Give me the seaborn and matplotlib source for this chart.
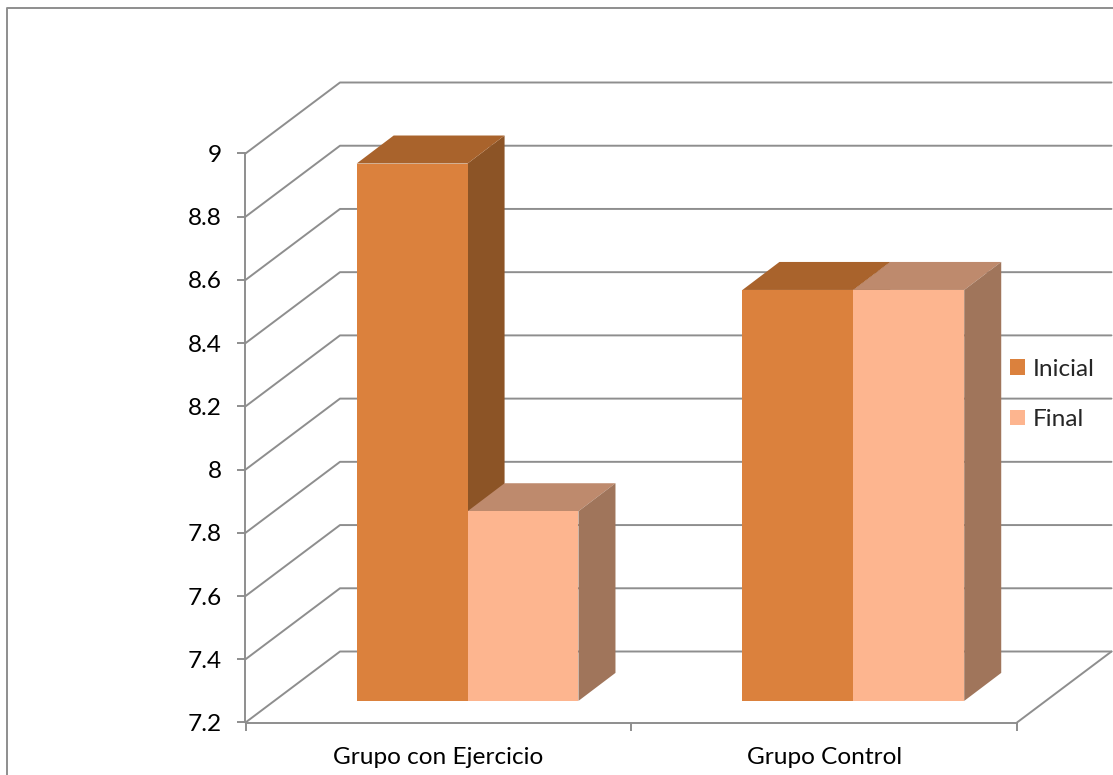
import matplotlib
matplotlib.use("Agg")
import matplotlib.pyplot as plt
from matplotlib.lines import Line2D
from matplotlib.patches import Polygon
import pandas as pd
import seaborn as sns

# Chart data
groups = ["Grupo con Ejercicio", "Grupo Control"]
series = ["Inicial", "Final"]
inicial = [8.9, 8.5]
final = [7.8, 8.5]
y_ticks = [7.2, 7.4, 7.6, 7.8, 8.0, 8.2, 8.4, 8.6, 8.8, 9.0]
y_tick_labels = ["7.2", "7.4", "7.6", "7.8", "8", "8.2", "8.4", "8.6", "8.8", "9"]

# Colours: front, top and side face of each series
front = {"Inicial": "#DB813D", "Final": "#FDB58F"}
top = {"Inicial": "#A9632C", "Final": "#BE8A6D"}
side = {"Inicial": "#8C5426", "Final": "#A0755B"}
line_grey = "#8E8E8E"

W, H = 1113, 775
LEFT, RIGHT, TOP, BOTTOM = 245.5, 1017, 153.5, 722.5

sns.set_theme(style="white")
plt.rcParams["font.family"] = ["Lato", "DejaVu Sans"]

fig = plt.figure(figsize=(W / 100, H / 100), dpi=100, facecolor="white")
ax = fig.add_axes([LEFT / W, 1 - BOTTOM / H, (RIGHT - LEFT) / W, (BOTTOM - TOP) / H])

df = pd.DataFrame({
    "grupo": groups * 2,
    "serie": [series[0]] * 2 + [series[1]] * 2,
    "valor": inicial + final,
})
sns.barplot(data=df, x="grupo", y="valor", hue="serie", hue_order=series,
            palette=front, width=0.575, gap=0, saturation=1, linewidth=0,
            ax=ax, zorder=3)

ymin, ymax = y_ticks[0], y_ticks[-1]
xmin, xmax = -0.5, 1.5
ax.set_xlim(xmin, xmax)
ax.set_ylim(ymin, ymax)

# Pixel lengths of the oblique projection, expressed in data units
px_x = (xmax - xmin) / (RIGHT - LEFT)
px_y = (ymax - ymin) / (BOTTOM - TOP)
wall_dx, wall_dy = 94.5 * px_x, 71 * px_y
bar_dx, bar_dy = 37 * px_x, 28 * px_y
shift_dx, shift_dy = 29.2 * px_x, 21.6 * px_y

# Receding gridlines from the value axis to the back wall
for v in y_ticks:
    ax.plot([xmin, xmin + wall_dx, xmax + wall_dx], [v, v + wall_dy, v + wall_dy],
            color=line_grey, lw=1.4, clip_on=False, zorder=1, solid_capstyle="round")
ax.plot([xmax, xmax + wall_dx], [ymin, ymin + wall_dy],
        color=line_grey, lw=1.4, clip_on=False, zorder=1)

# Move each bar into the middle of the floor and add its top and side faces
for name, container in zip(series, ax.containers):
    for bar, value in zip(container, df.loc[df["serie"] == name, "valor"]):
        x0 = bar.get_x() + shift_dx
        x1 = x0 + bar.get_width()
        y0 = ymin + shift_dy
        y1 = value + shift_dy
        bar.set_x(x0)
        bar.set_y(y0)
        bar.set_height(value - ymin)
        bar.set_clip_on(False)
        ax.add_patch(Polygon(
            [(x0, y1), (x1, y1), (x1 + bar_dx, y1 + bar_dy), (x0 + bar_dx, y1 + bar_dy)],
            closed=True, facecolor=top[name], edgecolor="none", clip_on=False, zorder=2.5))
        ax.add_patch(Polygon(
            [(x1, y0), (x1 + bar_dx, y0 + bar_dy), (x1 + bar_dx, y1 + bar_dy), (x1, y1)],
            closed=True, facecolor=side[name], edgecolor="none", clip_on=False,
            zorder=2.5 if name == "Final" else 2.4))

# Axes
for s in ("top", "right"):
    ax.spines[s].set_visible(False)
for s in ("left", "bottom"):
    ax.spines[s].set_color(line_grey)
    ax.spines[s].set_linewidth(1.4)
ax.set_xlabel("")
ax.set_ylabel("")
ax.set_yticks(y_ticks, y_tick_labels)
ax.tick_params(axis="y", left=True, length=6, width=1.4, color=line_grey,
               labelsize=17.6, labelcolor="black", pad=11)
ax.set_xticks([0, 1], groups)
ax.tick_params(axis="x", which="major", bottom=False, labelsize=17.6,
               labelcolor="black", pad=12)
ax.set_xticks([-0.5, 0.5, 1.5], minor=True)
ax.tick_params(axis="x", which="minor", bottom=True, length=6, width=1.4, color=line_grey)

# Legend on the right, over the back wall
handles, labels = ax.get_legend_handles_labels()
ax.legend(handles, labels, loc="center left", bbox_to_anchor=(1010 / W, 1 - 394.5 / H),
          bbox_transform=fig.transFigure, frameon=False, fontsize=17.6,
          handlelength=0.61, handleheight=0.61, handletextpad=0.33,
          labelspacing=1.2, borderpad=0, borderaxespad=0)

# Chart area border, open on the right and at the bottom
fig.add_artist(Line2D([7 / W, 7 / W, 1], [0, 1 - 8 / H, 1 - 8 / H],
                      color=line_grey, lw=1.4, transform=fig.transFigure))

fig.savefig("out.png", dpi=100, facecolor="white")
